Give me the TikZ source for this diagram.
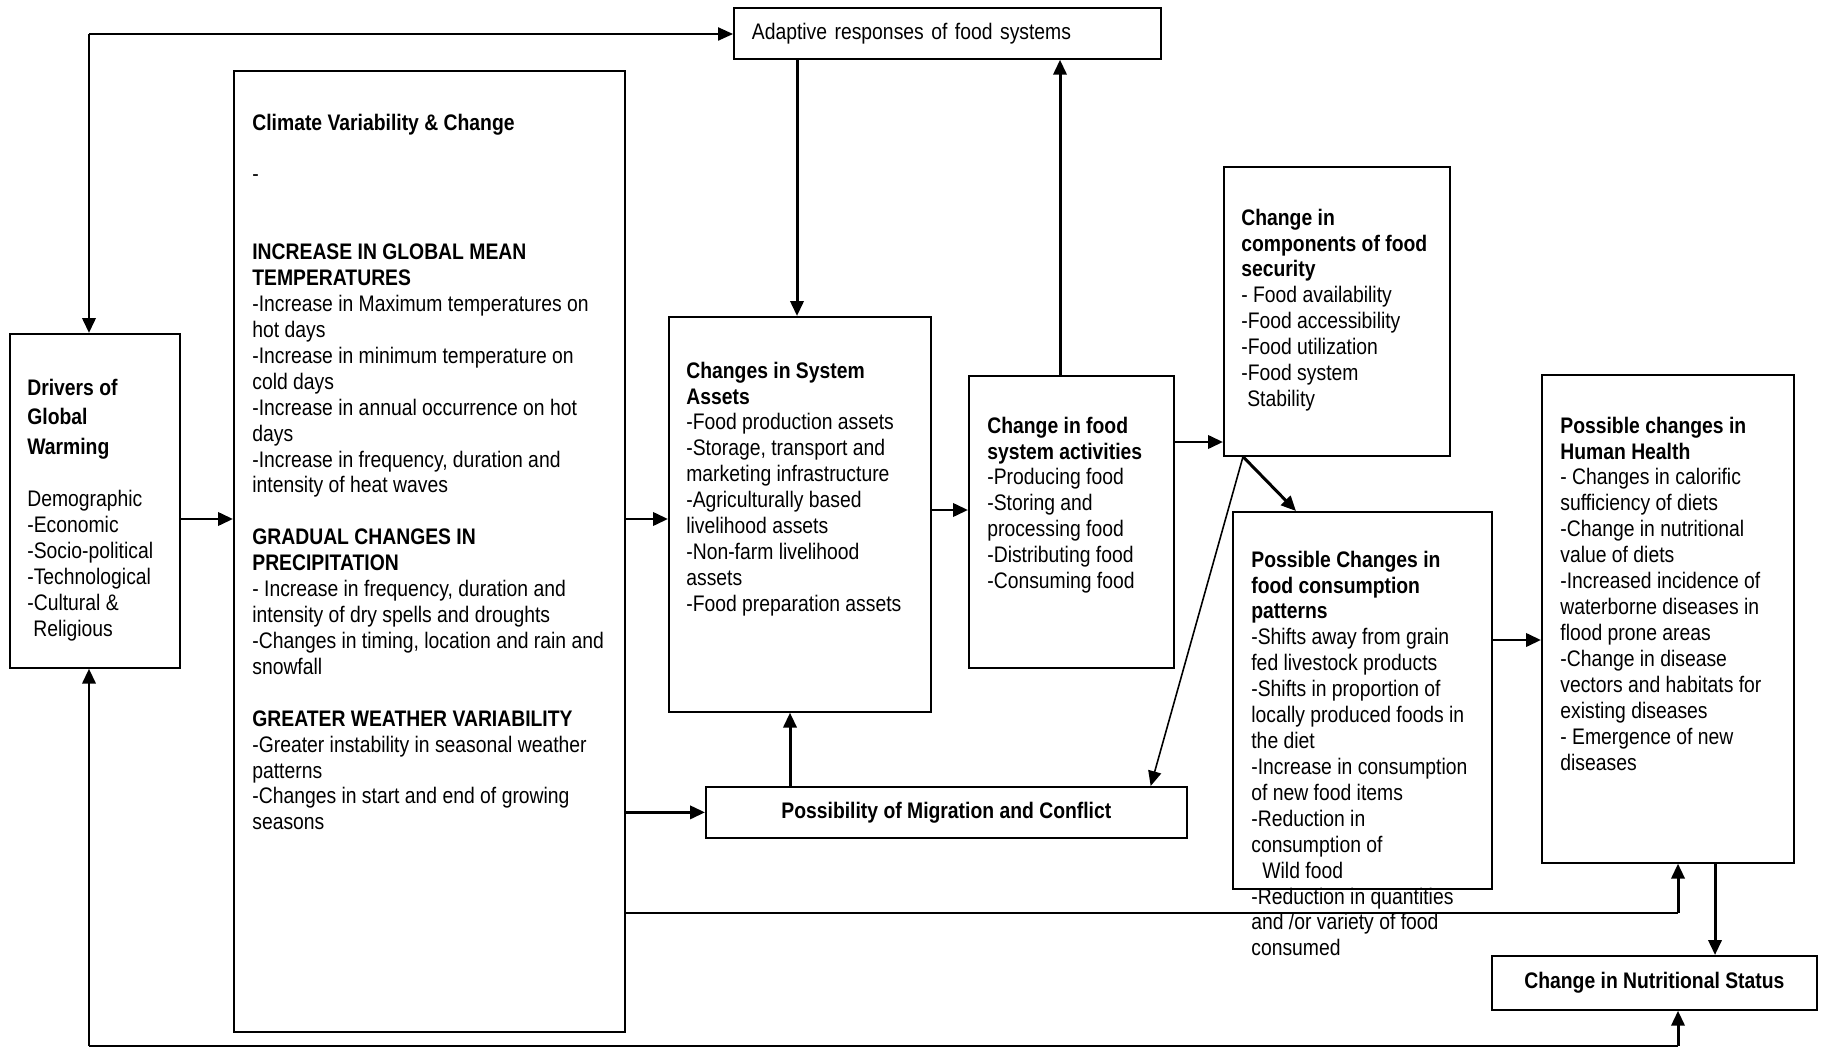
\documentclass[tikz,border=0pt]{standalone}
\usepackage{fontspec}
\setmainfont[FakeStretch=0.86]{Liberation Sans}
\usetikzlibrary{arrows.meta,calc}
\tikzset{
  box/.style={draw,line width=1pt,anchor=north west,inner sep=0pt},
  txt/.style={anchor=north west,align=left,inner sep=0pt},
  arr/.style={-{Triangle[length=8.5pt,width=7.5pt]},line width=1.7pt},
  rail/.style={line width=0.8pt}
}
\begin{document}
\begin{tikzpicture}[x=0.02cm,y=-0.02cm,font=\fontsize{12.8}{14.75}\selectfont]
	\useasboundingbox (0,0) rectangle (1821,1047);
	\node[box,minimum width=3.40cm,minimum height=6.68cm] (drivers) at (9,333) {};
	\node[box,minimum width=7.82cm,minimum height=19.22cm] (climate) at (233,70) {};
	\node[box,text width=7.82cm,inner xsep=0.36cm,minimum height=1.02cm,align=left] (adaptive) at (733,7) {Adaptive responses of food systems};
	\node[box,minimum width=5.24cm,minimum height=7.90cm] (assets) at (668,316) {};
	\node[box,minimum width=4.10cm,minimum height=5.84cm] (activities) at (968,375) {};
	\node[box,minimum width=4.52cm,minimum height=5.78cm] (security) at (1223,166) {};
	\node[box,minimum width=5.18cm,minimum height=7.54cm] (consumption) at (1232,511) {};
	\node[box,minimum width=5.04cm,minimum height=9.76cm] (health) at (1541,374) {};
	\node[box,minimum width=9.62cm,minimum height=1.02cm] (migration) at (705,786) {\textbf{Possibility of Migration and Conflict}};
	\node[box,minimum width=6.50cm,minimum height=1.08cm] (nutrition) at (1491,955) {\textbf{Change in Nutritional Status}};

	\node[txt] (driverstxt) at (27,378.5) {\textbf{Drivers of}\\[2pt]\textbf{Global}\\[2pt]\textbf{Warming}\\[15.4pt]
		Demographic\\-Economic\\-Socio-political\\-Technological\\-Cultural \&\\\hspace*{3.4pt}Religious};
	\node[txt] (climatetxt) at (252,113.5) {\textbf{Climate Variability \& Change}\\[14.75pt]
		-\\[29.5pt]
		\textbf{INCREASE IN GLOBAL MEAN}\\\textbf{TEMPERATURES}\\
		-Increase in Maximum temperatures on\\hot days\\
		-Increase in minimum temperature on\\cold days\\
		-Increase in annual occurrence on hot\\days\\
		-Increase in frequency, duration and\\intensity of heat waves\\[14.75pt]
		\textbf{GRADUAL CHANGES IN}\\\textbf{PRECIPITATION}\\
		- Increase in frequency, duration and\\intensity of dry spells and droughts\\
		-Changes in timing, location and rain and\\snowfall\\[14.75pt]
		\textbf{GREATER WEATHER VARIABILITY}\\
		-Greater instability in seasonal weather\\patterns\\
		-Changes in start and end of growing\\seasons};
	\node[txt] (assetstxt) at (686,361.5) {\textbf{Changes in System}\\\textbf{Assets}\\
		-Food production assets\\-Storage, transport and\\marketing infrastructure\\
		-Agriculturally based\\livelihood assets\\-Non-farm livelihood\\assets\\
		-Food preparation assets};
	\node[txt] (activitiestxt) at (987,416.5) {\textbf{Change in food}\\\textbf{system activities}\\
		-Producing food\\-Storing and\\processing food\\-Distributing food\\-Consuming food};
	\node[txt] (securitytxt) at (1241,208.5) {\textbf{Change in}\\\textbf{components of food}\\\textbf{security}\\
		- Food availability\\-Food accessibility\\-Food utilization\\-Food system\\\hspace*{3.4pt}Stability};
	\node[txt] (consumptiontxt) at (1251,550.5) {\textbf{Possible Changes in}\\\textbf{food consumption}\\\textbf{patterns}\\
		-Shifts away from grain\\fed livestock products\\
		-Shifts in proportion of\\locally produced foods in\\the diet\\
		-Increase in consumption\\of new food items\\
		-Reduction in\\consumption of\\\hspace*{6.3pt}Wild food\\
		-Reduction in quantities\\and /or variety of food\\consumed};
	\node[txt] (healthtxt) at (1560,416.5) {\textbf{Possible changes in}\\\textbf{Human Health}\\
		- Changes in calorific\\sufficiency of diets\\
		-Change in nutritional\\value of diets\\
		-Increased incidence of\\waterborne diseases in\\flood prone areas\\
		-Change in disease\\vectors and habitats for\\existing diseases\\
		- Emergence of new\\diseases};

	\coordinate (row) at (0,519);
	\coordinate (topleft) at (89,34);
	\coordinate (botleft) at (89,1046);
	\coordinate (botright) at (1678,1046);
	\coordinate (midright) at (1678,913);

	\draw[arr] (drivers.east |- row) -- (climate.west |- row);
	\draw[arr] (climate.east |- row) -- (assets.west |- row);
	\draw[arr] (topleft) -- (topleft |- drivers.north);
	\draw[arr,line width=0.9pt] (topleft) -- (adaptive.west |- topleft);
	\draw[arr] (botleft) -- (botleft |- drivers.south);
	\draw[rail] (botleft) -- (botright);
	\draw[arr] (botright) -- (botright |- nutrition.south);
	\draw[rail] (climate.east |- midright) -- (midright);
	\draw[arr] (midright) -- (midright |- health.south);
	\draw[arr] (climate.east |- migration.west) -- (migration.west);
	\draw[arr] ($(adaptive.south west)+(64,0)$) coordinate (a1) -- (a1 |- assets.north);
	\draw[arr] ($(activities.north west)+(92,0)$) coordinate (a2) -- (a2 |- adaptive.south);
	\draw[arr] ($(migration.north west)+(85,0)$) coordinate (a3) -- (a3 |- assets.south);
	\draw[arr] ($(assets.north east)+(0,194)$) coordinate (a4) -- (a4 -| activities.west);
	\draw[arr] ($(activities.north east)+(0,67)$) coordinate (a5) -- (a5 -| security.west);
	\draw[arr] ($(security.south west)+(20,0)$) coordinate (s1) -- ($(consumption.north west)+(64,0)$);
	\draw[arr,line width=0.9pt] (s1) -- ($(migration.north east)+(-37,0)$);
	\draw[arr] ($(consumption.north east)+(0,129)$) coordinate (a6) -- (a6 -| health.west);
	\draw[arr] ($(health.south west)+(174,0)$) coordinate (a7) -- (a7 |- nutrition.north);
\end{tikzpicture}
\end{document}
